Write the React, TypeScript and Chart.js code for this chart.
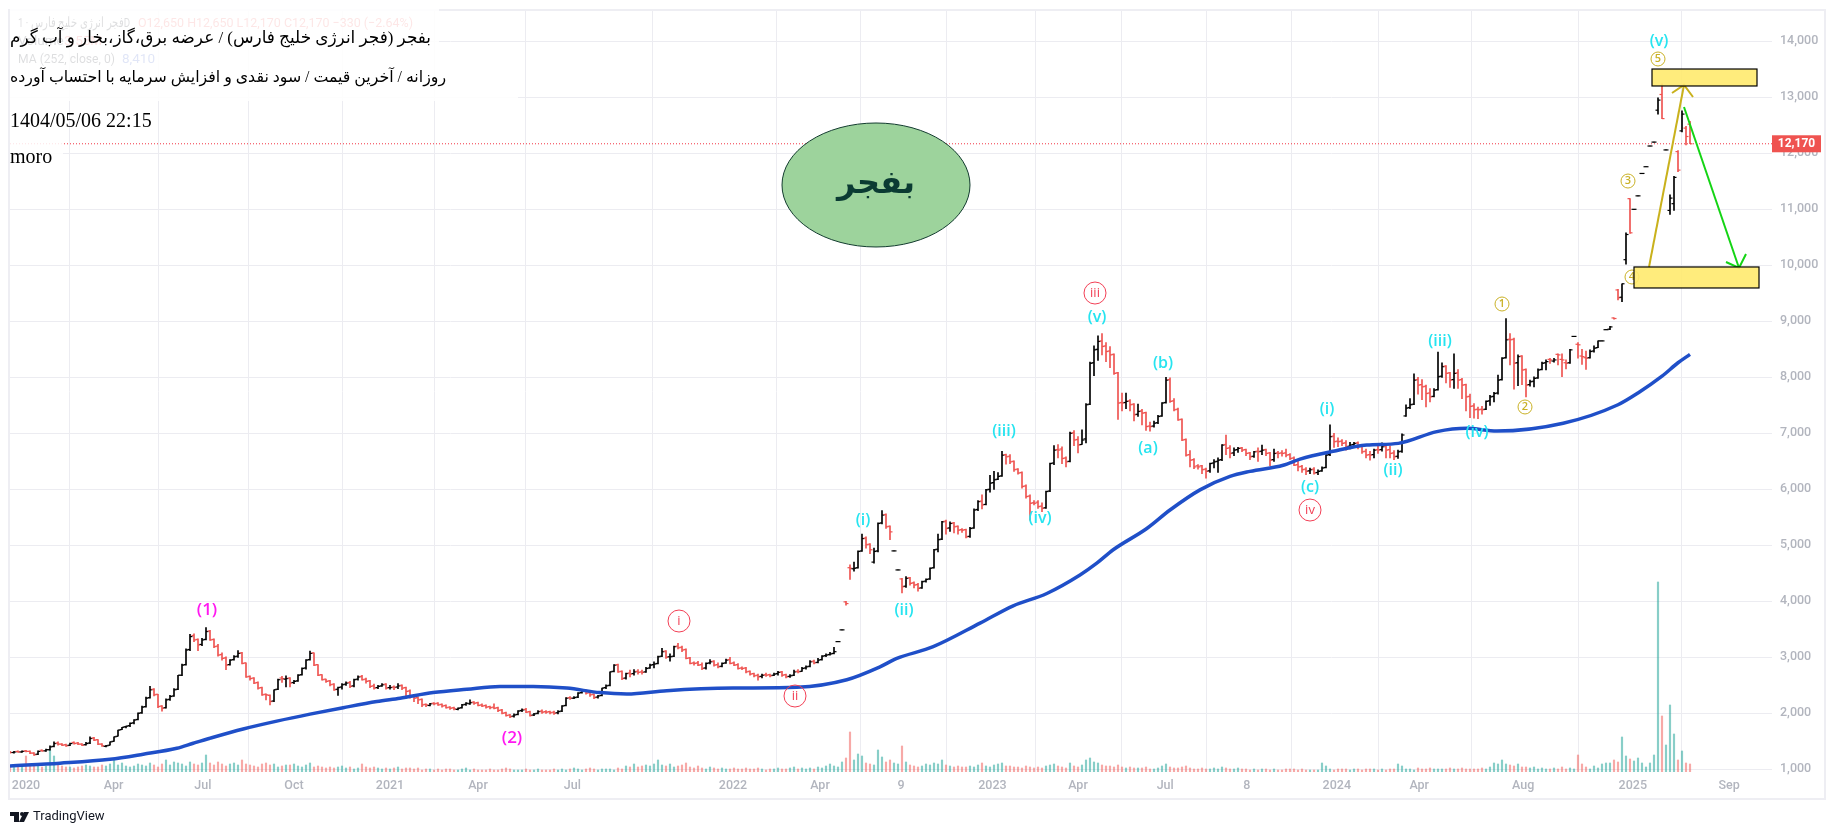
import { useEffect, useRef } from 'react';
import { Chart, registerables } from 'chart.js';

Chart.register(...registerables);

const opens = [
  1310,1300,1320,1310,1330,1320,1290,1270,1340,1330,
  1350,1410,1470,1450,1440,1430,1480,1470,1450,1440,
  1470,1560,1530,1450,1410,1430,1500,1590,1710,1760,
  1780,1830,1890,2010,2120,2280,2430,2340,2130,2100,
  2250,2310,2430,2680,2870,3140,3390,3320,3230,3320,
  3470,3320,3200,3050,2990,2870,2960,3020,3080,2900,
  2660,2630,2550,2460,2340,2320,2220,2430,2630,2610,
  2630,2550,2580,2690,2810,2960,3080,2870,2690,2610,
  2580,2520,2430,2470,2520,2550,2490,2610,2660,2610,
  2580,2490,2460,2490,2520,2460,2470,2470,2500,2460,
  2400,2310,2280,2250,2160,2140,2180,2180,2160,2140,
  2110,2100,2070,2100,2160,2170,2200,2190,2150,2140,
  2120,2110,2100,2060,2010,1970,1950,1980,2050,2070,
  2030,1970,2000,2040,2030,2030,2020,2010,2040,2140,
  2280,2270,2290,2370,2400,2370,2340,2290,2320,2460,
  2500,2750,2870,2750,2630,2720,2710,2750,2740,2740,
  2810,2870,2890,3020,3110,3010,3020,3200,3180,3140,
  2990,2900,2900,2870,2810,2900,2930,2870,2840,2900,
  2960,2900,2870,2810,2810,2750,2710,2680,2660,2690,
  2690,2680,2710,2740,2690,2660,2680,2750,2750,2810,
  2840,2930,2910,2960,3030,3050,3070,3280,3490,3990,
  4600,4580,4600,4900,5130,5020,4700,4900,5400,5550,
  5340,4900,4560,4400,4270,4420,4330,4300,4240,4360,
  4400,4600,4930,5110,5430,5310,5400,5340,5280,5280,
  5160,5310,5640,5790,5730,6000,6120,6180,6240,6620,
  6590,6500,6360,6300,6060,5880,5760,5770,5700,5670,
  5970,6470,6710,6720,6560,6500,7010,6890,6800,6900,
  7520,8260,8500,8650,8560,8470,8410,8080,7550,7550,
  7580,7520,7340,7400,7370,7130,7130,7190,7310,7550,
  7960,7580,7430,7250,6890,6620,6530,6420,6420,6360,
  6330,6470,6500,6530,6800,6740,6650,6710,6740,6710,
  6650,6590,6680,6680,6710,6650,6530,6650,6650,6650,
  6620,6560,6440,6410,6360,6330,6360,6300,6330,6390,
  6620,6950,6860,6860,6830,6770,6800,6830,6770,6680,
  6620,6620,6710,6710,6770,6710,6650,6590,6680,7310,
  7460,7520,7960,7870,7840,7720,7660,7780,8020,8200,
  8080,7960,8080,7960,7870,7660,7490,7430,7430,7430,
  7580,7660,7720,7960,8350,8680,8680,8260,8380,8140,
  7870,7930,7990,8140,8260,8320,8290,8410,8320,8260,
  8260,8730,8590,8380,8350,8350,8470,8530,8650,8850,
  8860,9060,9560,9430,10100,11190,11000,11240,11640,11760,
  12130,12200,12770,13050,12060,10980,11100,12030,12400,12450,12520,
];

const highs = [
  1320,1320,1330,1330,1340,1330,1300,1330,1350,1360,
  1420,1490,1490,1460,1450,1470,1490,1480,1460,1480,
  1580,1570,1530,1460,1430,1490,1580,1700,1750,1770,
  1830,1890,2010,2130,2290,2480,2440,2340,2140,2260,
  2320,2440,2680,2880,3150,3410,3420,3330,3340,3530,
  3480,3330,3230,3080,3010,2960,3030,3120,3090,2900,
  2670,2640,2560,2470,2350,2330,2420,2610,2660,2670,
  2640,2590,2690,2810,2960,3110,3080,2870,2690,2610,
  2590,2530,2470,2530,2560,2570,2610,2670,2680,2630,
  2590,2520,2500,2530,2530,2500,2490,2530,2510,2470,
  2420,2320,2300,2260,2170,2180,2190,2190,2170,2150,
  2120,2110,2100,2160,2190,2240,2210,2200,2170,2150,
  2130,2170,2110,2070,2020,1980,1990,2050,2080,2090,
  2040,2000,2050,2060,2050,2040,2040,2050,2140,2280,
  2300,2300,2370,2400,2420,2390,2350,2320,2450,2510,
  2740,2870,2880,2760,2720,2770,2780,2780,2770,2820,
  2880,2920,3020,3160,3120,3060,3200,3250,3200,3150,
  3000,2920,2930,2900,2900,2960,2940,2900,2900,2970,
  3000,2920,2890,2830,2820,2760,2720,2700,2700,2720,
  2700,2720,2750,2750,2700,2690,2770,2780,2820,2850,
  2940,2950,2980,3030,3060,3090,3180,3280,3490,4000,
  4650,4700,4900,5200,5150,5030,4950,5400,5620,5560,
  5350,4900,4560,4410,4440,4430,4350,4320,4360,4400,
  4600,4930,5200,5430,5450,5420,5410,5350,5300,5290,
  5320,5650,5800,5900,6000,6250,6320,6300,6680,6630,
  6620,6510,6370,6310,6080,5900,5800,5800,5760,5970,
  6470,6780,6800,6760,6580,7020,7050,6940,7060,7530,
  8270,8560,8740,8780,8620,8550,8420,8090,7720,7720,
  7600,7530,7520,7430,7380,7200,7220,7320,7550,8000,
  7990,7620,7450,7260,6900,6690,6550,6440,6430,6380,
  6470,6530,6560,6800,6970,6780,6740,6750,6750,6720,
  6660,6680,6740,6790,6720,6660,6720,6680,6690,6720,
  6640,6580,6500,6430,6390,6380,6390,6350,6400,6620,
  7150,7000,6920,6890,6870,6840,6840,6850,6780,6720,
  6680,6720,6790,6830,6790,6770,6690,6700,6990,7510,
  7620,8060,8000,7960,7860,7800,7800,8450,8260,8210,
  8090,8420,8140,7980,7880,7700,7530,7470,7480,7580,
  7680,7730,8040,8350,9050,8780,8700,8400,8390,8150,
  7950,8010,8150,8270,8310,8340,8340,8420,8420,8310,
  8500,8730,8620,8500,8470,8490,8560,8650,8650,8850,
  8910,9060,9570,9670,10580,11190,11000,11240,11640,11760,
  12130,12200,12990,13240,12060,11260,11590,12050,12760,12480,12570,
];

const lows = [
  1290,1290,1300,1300,1310,1280,1250,1260,1320,1320,
  1340,1400,1430,1420,1410,1420,1450,1440,1420,1430,
  1460,1510,1440,1410,1400,1430,1500,1590,1710,1740,
  1760,1810,1880,2000,2110,2270,2310,2100,2040,2090,
  2230,2300,2420,2670,2860,3120,3280,3120,3210,3310,
  3300,3170,3020,2950,2780,2860,2950,3000,2880,2640,
  2590,2530,2430,2320,2240,2150,2210,2420,2550,2470,
  2470,2530,2570,2680,2790,2950,2850,2670,2590,2550,
  2490,2410,2320,2430,2500,2460,2470,2590,2590,2540,
  2460,2430,2440,2480,2430,2430,2420,2440,2420,2270,
  2270,2210,2170,2120,2120,2130,2150,2140,2110,2090,
  2070,2060,2060,2090,2140,2160,2160,2130,2120,2090,
  2080,2080,2030,1990,1950,1920,1930,1970,2030,2010,
  1950,1960,1990,2000,2000,1990,1980,1990,2030,2130,
  2250,2260,2280,2360,2340,2300,2260,2270,2310,2440,
  2490,2740,2730,2600,2610,2650,2680,2700,2700,2730,
  2800,2810,2880,3010,2980,2930,3010,3150,3100,2970,
  2880,2860,2850,2780,2790,2880,2840,2810,2830,2890,
  2880,2850,2790,2780,2720,2680,2650,2590,2630,2660,
  2650,2670,2680,2660,2630,2640,2670,2720,2750,2790,
  2830,2880,2900,2950,3010,3040,3060,3280,3490,3930,
  4390,4540,4590,4890,4950,4850,4680,4880,5380,5300,
  5100,4900,4560,4150,4250,4290,4240,4180,4230,4340,
  4390,4590,4880,5100,5200,5250,5220,5200,5230,5130,
  5140,5300,5620,5650,5720,5950,6000,6170,6230,6450,
  6460,6320,6270,6020,5840,5450,5720,5660,5600,5660,
  5960,6440,6560,6460,6400,6490,6780,6650,6800,6830,
  7510,8030,8300,8400,8280,8170,8050,7250,7400,7440,
  7400,7220,7300,7150,7050,7040,7110,7170,7300,7540,
  7550,7400,7230,6870,6590,6400,6370,6360,6280,6200,
  6300,6380,6300,6510,6620,6560,6600,6660,6670,6600,
  6530,6570,6500,6620,6600,6420,6500,6560,6590,6580,
  6530,6420,6330,6300,6260,6280,6270,6260,6320,6380,
  6600,6750,6760,6780,6700,6720,6760,6720,6640,6560,
  6520,6560,6640,6680,6560,6560,6530,6550,6660,7300,
  7440,7510,7700,7600,7470,7560,7650,7770,8000,7900,
  7820,7800,7800,7620,7400,7280,7270,7260,7340,7420,
  7500,7560,7700,7950,8340,8220,7790,7850,7870,7650,
  7840,7830,7980,8130,8130,8250,8270,8220,8010,8150,
  8250,8730,8340,8230,8140,8340,8450,8530,8650,8850,
  8850,9040,9380,9350,10020,10570,11000,11240,11640,11760,
  12130,12200,12700,12620,12060,10910,10980,11670,12380,12150,12170,
];

const closes = [
  1300,1310,1310,1320,1320,1290,1260,1320,1330,1350,
  1400,1460,1450,1430,1420,1460,1460,1450,1430,1460,
  1550,1520,1450,1420,1420,1490,1580,1700,1750,1770,
  1820,1880,2000,2110,2270,2420,2330,2120,2090,2240,
  2300,2420,2680,2860,3130,3370,3310,3220,3310,3460,
  3310,3190,3040,2980,2860,2950,3010,3070,2890,2650,
  2620,2540,2450,2330,2330,2210,2420,2600,2620,2620,
  2540,2570,2680,2800,2950,3070,2860,2680,2600,2570,
  2510,2420,2460,2510,2540,2480,2600,2650,2600,2570,
  2480,2450,2480,2510,2450,2460,2460,2490,2450,2390,
  2300,2270,2240,2150,2150,2170,2170,2150,2130,2100,
  2090,2080,2090,2150,2180,2190,2180,2140,2130,2110,
  2100,2090,2050,2000,1960,1940,1970,2040,2060,2020,
  1960,1990,2030,2020,2020,2010,2000,2030,2130,2270,
  2270,2280,2360,2390,2360,2330,2280,2310,2450,2490,
  2740,2860,2740,2620,2710,2700,2740,2730,2730,2800,
  2860,2880,3010,3100,3000,3010,3190,3170,3130,2980,
  2890,2890,2860,2800,2890,2920,2860,2830,2890,2950,
  2890,2860,2800,2800,2740,2700,2670,2650,2680,2680,
  2670,2700,2730,2680,2650,2670,2740,2740,2800,2830,
  2920,2900,2950,3020,3040,3060,3100,3280,3490,3960,
  4590,4590,4890,5120,5010,4920,4890,5390,5540,5330,
  5240,4900,4560,4260,4410,4320,4290,4230,4350,4390,
  4590,4920,5100,5420,5300,5390,5330,5270,5270,5150,
  5300,5630,5780,5720,5990,6110,6170,6230,6610,6580,
  6490,6350,6290,6050,5870,5750,5750,5690,5660,5960,
  6460,6700,6700,6550,6490,7000,6880,6790,6880,7510,
  8250,8490,8640,8550,8460,8400,8070,7540,7540,7570,
  7510,7330,7390,7360,7120,7120,7180,7300,7540,7950,
  7570,7420,7240,6880,6610,6520,6400,6400,6350,6320,
  6460,6490,6520,6790,6730,6640,6700,6730,6700,6640,
  6580,6670,6670,6700,6640,6520,6640,6640,6640,6610,
  6550,6430,6400,6350,6320,6350,6290,6320,6380,6610,
  6940,6850,6850,6820,6760,6790,6820,6760,6670,6610,
  6610,6700,6700,6760,6700,6640,6580,6670,6970,7450,
  7510,7950,7860,7830,7710,7650,7770,8010,8190,8070,
  7950,8070,7950,7860,7650,7480,7420,7420,7420,7570,
  7650,7710,7950,8340,8670,8670,8250,8370,8130,7860,
  7920,7980,8130,8250,8280,8310,8310,8400,8310,8250,
  8490,8730,8580,8370,8340,8460,8520,8650,8650,8850,
  8900,9050,9420,9670,10550,10580,11000,11240,11640,11760,
  12130,12200,12950,12620,12060,11200,11570,11700,12700,12300,12170,
];

// volume, in arbitrary units on a hidden axis
const volumes = [
  5,6,7,6,16,7,6,8,5,6,
  22,16,8,6,5,5,4,5,6,7,
  6,5,5,7,6,8,12,7,9,6,
  5,6,8,7,6,9,7,5,8,12,
  7,10,9,8,6,10,8,7,9,17,
  9,7,10,8,6,8,9,7,12,8,
  7,6,5,8,9,7,8,5,6,7,
  7,8,6,5,7,9,5,6,5,4,
  5,4,5,6,4,5,3,4,8,5,
  4,5,4,3,4,3,4,5,3,4,
  4,3,4,2,3,3,2,3,2,3,
  3,2,2,3,4,2,3,2,2,2,
  3,2,2,3,4,3,2,2,2,3,
  2,2,3,2,2,2,3,2,3,2,
  3,4,3,2,3,4,3,2,3,3,
  3,2,4,3,6,5,8,5,6,7,
  6,8,12,7,6,8,5,6,7,9,
  5,4,6,4,3,5,4,3,4,3,
  3,4,3,3,4,3,3,4,3,2,
  3,3,4,3,3,4,5,3,4,3,
  4,3,5,4,6,8,6,5,10,14,
  40,12,18,16,9,8,7,22,15,10,
  12,9,8,26,10,7,6,5,6,8,
  7,9,8,12,7,6,5,6,5,5,
  6,5,7,9,6,5,7,8,9,6,
  6,5,5,4,6,5,4,5,4,6,
  7,8,6,5,4,9,6,5,7,12,
  14,10,9,7,6,6,5,7,5,4,
  5,4,4,4,5,3,3,4,6,8,
  5,4,4,5,6,4,3,3,4,3,
  3,4,3,5,4,3,3,4,3,3,
  2,3,2,3,3,2,3,2,2,3,
  3,3,2,3,2,2,2,2,9,6,
  3,2,3,3,3,2,3,3,2,3,
  3,3,2,3,2,3,3,8,6,3,
  3,2,4,3,3,4,3,3,3,3,
  4,3,3,4,3,3,3,3,4,3,
  5,9,8,12,8,7,6,8,5,5,
  4,5,3,4,3,3,4,3,5,3,
  4,3,17,8,5,3,6,4,8,9,
  9,12,10,35,16,13,11,14,9,5,
  9,17,190,56,27,67,38,12,21,9,8,
];

const maBars = [0,12.5,25,33.3,41.7,45.8,50,58.3,66.7,75,83.3,91.7,97.5,105.8,114.2,122.5,130.8,139.2,147.5,154.2,164.2,180.8,196.7,209.2,217.5,221.7,230.8,242.5,250.8,259.2,267.5,271.7,275.8,284.2,290,297.5,305,310,318.3,322.5,330.8,339.2,347.1,356.7,364.2,371.7,388.3,402,407,413,417,420];
const maValues = [1060,1110,1180,1270,1375,1465,1555,1720,1860,1985,2100,2210,2270,2370,2430,2480,2480,2450,2370,2345,2405,2450,2465,2600,2830,2980,3190,3610,3920,4140,4470,4680,4920,5300,5630,5990,6230,6320,6430,6540,6680,6790,6820,7030,7090,7040,7180,7510,7720,8020,8260,8410];

const priceTicks = [1000,2000,3000,4000,5000,6000,7000,8000,9000,10000,11000,12000,13000,14000];
const timeTickBars = [4,25.9,48.2,71,95,117,140.6,180.75,202.5,222.75,245.6,267,288.8,309.2,331.7,352.3,378.3,405.7,429.8];
const timeTickLabels = ['2020','Apr','Jul','Oct','2021','Apr','Jul','2022','Apr','9','2023','Apr','Jul','8','2024','Apr','Aug','2025','Sep'];
const lastPrice = 12170;
const xMax = 440.5;

const waveLabels: Array<[string, number, number]> = [
  ['(i)',213.25,5452],['(ii)',223.5,3845],['(iii)',248.5,7041],['(iv)',257.5,5487],['(v)',271.75,9077],
  ['(a)',284.5,6738],['(b)',288.25,8255],['(c)',325,6041],['(i)',329.25,7434],['(ii)',345.75,6345],
  ['(iii)',357.5,8648],['(iv)',366.75,7023],['(v)',412.25,14005],
];
const majorLabels: Array<[string, number, number]> = [['(1)',49.25,3845],['(2)',125.5,1559]];
const redCircles: Array<[string, number, number]> = [['i',167.25,3648],['ii',196.25,2309],['iii',271.25,9505],['iv',325,5630]];
const goldCircles: Array<[string, number, number]> = [['1',373,9309],['2',378.75,7470],['3',404.5,11505],['4',405.5,9791],['5',412,13684]];
const targetBoxes = [[410.5,13505,436.75,13202],[406,9970,437.25,9595]];
const goldArrow = [{ x: 409.75, y: 9970 }, { x: 418.5, y: 13220 }];
const goldHead = [{ x: 415.5, y: 13077 }, { x: 418.5, y: 13220 }, { x: 420.75, y: 13005 }];
const greenArrow = [{ x: 418.5, y: 12827 }, { x: 432.25, y: 9952 }];
const greenHead = [{ x: 429, y: 10059 }, { x: 432.25, y: 9952 }, { x: 434, y: 10202 }];

const title1 = 'بفجر (فجر انرژی خلیج فارس) / عرضه برق،گاز،بخار و آب گرم';
const title2 = 'روزانه / آخرین قیمت / سود نقدی و افزایش سرمایه با احتساب آورده';

const RED = '#ef5350';
const GRID = '#ececf1';
const SERIF = '"Liberation Serif", "DejaVu Serif", serif';
const ARABIC = '"Liberation Serif", "DejaVu Sans", serif';
const SANS = 'Roboto, "Open Sans", sans-serif';

const upDown = (i: number) => closes[i] >= opens[i];

const overlayPlugin = {
  id: 'overlay',
  beforeDraw(chart: any) {
    const c = chart.ctx;
    c.save();
    c.strokeStyle = '#eeeef3';
    c.lineWidth = 2;
    c.strokeRect(9, 10, 1816, 789);
    c.restore();
  },
  afterDatasetsDraw(chart: any) {
    const c = chart.ctx;
    const px = (v: number) => chart.scales.x.getPixelForValue(v);
    const py = (v: number) => chart.scales.y.getPixelForValue(v);
    c.save();
    c.textBaseline = 'middle';
    c.textAlign = 'center';

    c.fillStyle = '#26e4f0';
    c.font = '600 16px "Open Sans", sans-serif';
    waveLabels.forEach(([t, x, y]) => c.fillText(t, px(x), py(y)));
    c.fillStyle = '#ff19f0';
    c.font = '600 17px "Open Sans", sans-serif';
    majorLabels.forEach(([t, x, y]) => c.fillText(t, px(x), py(y)));

    c.lineWidth = 1;
    c.strokeStyle = '#f23f55';
    c.fillStyle = '#f23f55';
    c.font = '13px "Open Sans", sans-serif';
    redCircles.forEach(([t, x, y]) => {
      c.beginPath();
      c.arc(px(x), py(y), 11, 0, Math.PI * 2);
      c.stroke();
      c.fillText(t, px(x), py(y));
    });
    c.strokeStyle = '#c9b126';
    c.fillStyle = '#c9b126';
    c.font = '600 11px "Open Sans", sans-serif';
    goldCircles.forEach(([t, x, y]) => {
      c.beginPath();
      c.arc(px(x), py(y), 7, 0, Math.PI * 2);
      c.stroke();
      c.fillText(t, px(x), py(y));
    });

    c.fillStyle = 'rgba(255,234,110,0.9)';
    c.strokeStyle = '#000';
    c.lineWidth = 1.2;
    targetBoxes.forEach(([x0, y0, x1, y1]) => {
      c.fillRect(px(x0), py(y0), px(x1) - px(x0), py(y1) - py(y0));
      c.strokeRect(px(x0), py(y0), px(x1) - px(x0), py(y1) - py(y0));
    });

    // the ellipse with the ticker
    c.beginPath();
    c.ellipse(px(216.5), py(11434), 94, 62, 0, 0, Math.PI * 2);
    c.fillStyle = '#9dd39c';
    c.fill();
    c.strokeStyle = '#123b2e';
    c.lineWidth = 1;
    c.stroke();
    c.fillStyle = '#0b3b33';
    c.font = 'bold 32px "DejaVu Sans", sans-serif';
    c.fillText('بفجر', px(216.5), py(11434));
    c.restore();
  },
  afterDraw(chart: any) {
    const c = chart.ctx;
    c.save();
    c.textBaseline = 'middle';

    // faint pane legend, sits under the white patches
    c.textAlign = 'left';
    c.font = `13.5px ${SANS}`;
    c.fillStyle = '#131722';
    c.fillText('فجر انرژی خلیج فارس · 1D', 18, 24, 112);
    c.fillText('Volume', 18, 42);
    c.fillText('MA (252, close, 0)', 18, 60, 97);
    c.fillStyle = RED;
    c.fillText('O12,650 H12,650 L12,170 C12,170 −330 (−2.64%)', 138, 24, 275);
    c.fillText('3.55M', 64, 42);
    c.fillStyle = '#2b50c8';
    c.fillText('8,410', 122, 60);

    c.fillStyle = 'rgba(255,255,255,0.86)';
    c.fillRect(10, 9, 429, 51);
    c.fillRect(10, 60, 508, 41);
    c.fillRect(10, 101, 53, 74);

    c.fillStyle = '#000';
    c.direction = 'rtl';
    c.textAlign = 'right';
    c.font = `17.4px ${ARABIC}`;
    c.fillText(title1, 431, 38, 421);
    c.font = `16px ${ARABIC}`;
    c.fillText(title2, 446, 78, 436);
    c.direction = 'ltr';
    c.textAlign = 'left';
    c.font = `20px ${SERIF}`;
    c.fillText('1404/05/06 22:15', 10, 122);
    c.fillText('moro', 10, 158);

    // last price tag
    const tagY = chart.scales.y.getPixelForValue(lastPrice);
    c.fillStyle = RED;
    c.fillRect(1772, tagY - 8.5, 49, 17);
    c.fillStyle = '#fff';
    c.textAlign = 'center';
    c.font = `bold 12px ${SANS}`;
    c.fillText('12,170', 1796.5, tagY + 0.5);

    // logo and wordmark
    c.fillStyle = '#131722';
    c.fillRect(10, 812, 9, 4);
    c.fillRect(14, 812, 5, 10);
    c.beginPath();
    c.arc(22, 814, 2, 0, Math.PI * 2);
    c.fill();
    c.beginPath();
    c.moveTo(24, 812);
    c.lineTo(29, 812);
    c.lineTo(24, 822);
    c.lineTo(19, 822);
    c.closePath();
    c.fill();
    c.textAlign = 'left';
    c.font = `400 13px ${SANS}`;
    c.fillText('TradingView', 33, 817);
    c.restore();
  },
};

export default function App() {
  const canvasRef = useRef<HTMLCanvasElement>(null);

  useEffect(() => {
    if (!canvasRef.current) return;
    document.body.style.margin = '0';
    const bars = closes.map((_, i) => i);
    const barColors = bars.map((i) => (upDown(i) ? '#000000' : RED));
    const volColors = bars.map((i) => (upDown(i) ? 'rgba(38,166,154,0.55)' : 'rgba(239,83,80,0.5)'));

    const chart = new Chart(canvasRef.current, {
      type: 'bar',
      data: {
        datasets: [
          {
            type: 'bar',
            data: bars.map((i) => ({ x: i, y: volumes[i] })),
            yAxisID: 'yVol',
            backgroundColor: volColors,
            barThickness: 1.5,
            grouped: false,
            order: 6,
          },
          {
            type: 'bar',
            data: bars.map((i) => ({ x: i, y: [lows[i], highs[i]] })),
            backgroundColor: barColors,
            barThickness: 1,
            grouped: false,
            order: 4,
          },
          {
            type: 'scatter',
            data: bars.map((i) => ({ x: i, y: opens[i] })),
            pointStyle: 'dash',
            rotation: 180,
            pointRadius: 2.5,
            pointBorderWidth: 1.2,
            pointBorderColor: barColors,
            order: 3,
          },
          {
            type: 'scatter',
            data: bars.map((i) => ({ x: i, y: closes[i] })),
            pointStyle: 'dash',
            pointRadius: 2.5,
            pointBorderWidth: 1.2,
            pointBorderColor: barColors,
            order: 3,
          },
          {
            type: 'line',
            data: [{ x: 0, y: lastPrice }, { x: xMax, y: lastPrice }],
            borderColor: '#f23645',
            borderWidth: 1,
            borderDash: [1, 2],
            pointRadius: 0,
            order: 2,
          },
          {
            type: 'line',
            data: maBars.map((x, i) => ({ x, y: maValues[i] })),
            borderColor: '#1f4fc8',
            borderWidth: 3.5,
            pointRadius: 0,
            cubicInterpolationMode: 'monotone',
            order: 1,
          },
          ...[goldArrow, goldHead].map((data) => ({
            type: 'line' as const,
            data,
            borderColor: '#c9b11c',
            borderWidth: 2,
            pointRadius: 0,
            order: 0,
          })),
          ...[greenArrow, greenHead].map((data) => ({
            type: 'line' as const,
            data,
            borderColor: '#14d414',
            borderWidth: 2,
            pointRadius: 0,
            order: 0,
          })),
        ] as any,
      },
      options: {
        responsive: false,
        animation: false,
        layout: { padding: { left: 10, top: 11, right: 0, bottom: 0 } },
        plugins: { legend: { display: false }, tooltip: { enabled: false } },
        scales: {
          x: {
            type: 'linear',
            min: 0,
            max: xMax,
            offset: false,
            grid: { color: GRID, drawTicks: false },
            border: { display: false },
            afterBuildTicks: (s: any) => {
              s.ticks = timeTickBars.map((value) => ({ value }));
            },
            afterFit: (s: any) => {
              s.height = 63;
              s.paddingLeft = 0;
              s.paddingRight = 0;
            },
            ticks: {
              autoSkip: false,
              maxRotation: 0,
              padding: 6,
              color: '#b2b5be',
              font: { family: 'Roboto', size: 12.5, weight: 500 },
              callback: (v: any) => timeTickLabels[timeTickBars.indexOf(v)],
            },
          },
          y: {
            position: 'right',
            min: 952,
            max: 14541,
            grid: { color: GRID, drawTicks: false },
            border: { display: false },
            afterBuildTicks: (s: any) => {
              s.ticks = priceTicks.map((value) => ({ value }));
            },
            afterFit: (s: any) => {
              s.width = 64;
              s.paddingTop = 0;
              s.paddingBottom = 0;
            },
            ticks: {
              padding: 8,
              crossAlign: 'near',
              color: '#b2b5be',
              font: { family: 'Roboto', size: 12.5, weight: 500 },
              callback: (v: any) => Number(v).toLocaleString('en-US'),
            },
          },
          yVol: {
            display: false,
            min: 0,
            max: 761,
          },
        },
      },
      plugins: [overlayPlugin],
    });

    return () => chart.destroy();
  }, []);

  return <canvas ref={canvasRef} width={1836} height={835} style={{ display: 'block' }} />;
}
